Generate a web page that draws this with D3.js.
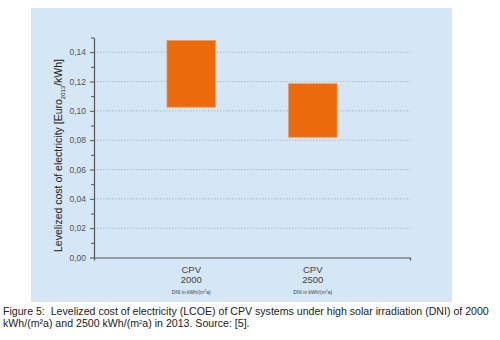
<!DOCTYPE html>
<html>
<head>
<meta charset="utf-8">
<script src="https://cdn.jsdelivr.net/npm/d3@7"></script>
<style>
  body { margin: 0; background: #fff; }
  svg { display: block; font-family: "Liberation Sans", Arial, sans-serif; }
</style>
</head>
<body>
<div id="chart"></div>
<script>
// LCOE ranges for CPV at two DNI levels
const categories = ["2000", "2500"];
const lowValues = [0.1025, 0.082];
const highValues = [0.148, 0.1185];
const yTicks = [0, 0.02, 0.04, 0.06, 0.08, 0.10, 0.12, 0.14];
const captionLines = [
  "Figure 5:  Levelized cost of electricity (LCOE) of CPV systems under high solar irradiation (DNI) of 2000",
  "kWh/(m²a) and 2500 kWh/(m<sup>2</sup>a) in 2013. Source: [5]."
];

const data = categories.map((c, i) => ({ cat: c, low: lowValues[i], high: highValues[i] }));

const W = 500, H = 340;
const svg = d3.select("#chart").append("svg")
  .attr("width", W)
  .attr("height", H);

// light blue panel behind the chart
svg.append("rect")
  .attr("x", 31).attr("y", 8)
  .attr("width", 421).attr("height", 294)
  .attr("fill", "#d5e6f4");

const plotLeft = 94, plotRight = 410, plotTop = 37.5, plotBottom = 257.5;

const x = d3.scaleBand()
  .domain(categories)
  .range([plotLeft, plotRight])
  .padding(0.6);

const y = d3.scaleLinear()
  .domain([0, 0.15])
  .range([plotBottom, plotTop]);

const fmt = d => d.toFixed(2).replace(".", ",");

// dotted grid
svg.append("g")
  .selectAll("line")
  .data(yTicks.slice(1))
  .enter().append("line")
  .attr("x1", plotLeft).attr("x2", plotRight)
  .attr("y1", d => y(d)).attr("y2", d => y(d))
  .attr("stroke", "#a9b4bd")
  .attr("stroke-width", 0.8)
  .attr("stroke-dasharray", "1.5,1.5");

// bars (floating range)
svg.selectAll(".bar")
  .data(data)
  .enter().append("rect")
  .attr("class", "bar")
  .attr("x", d => x(d.cat))
  .attr("y", d => y(d.high))
  .attr("width", x.bandwidth())
  .attr("height", d => y(d.low) - y(d.high))
  .attr("fill", "#ea6a0c")
  .attr("stroke", "#f39a5c")
  .attr("stroke-width", 0.8);

// y axis with minor ticks
const yAxis = svg.append("g")
  .attr("transform", `translate(${plotLeft},0)`)
  .call(d3.axisLeft(y).tickValues(yTicks).tickFormat(fmt).tickSize(4).tickPadding(4).tickSizeOuter(0));
yAxis.select(".domain").attr("stroke", "#555").attr("stroke-width", 1.2);
yAxis.selectAll(".tick line").attr("stroke", "#555");
yAxis.selectAll("text").attr("font-size", 8.5).attr("fill", "#555");

svg.append("g")
  .attr("transform", `translate(${plotLeft},0)`)
  .call(d3.axisLeft(y).tickValues(d3.range(0.01, 0.16, 0.02)).tickFormat("").tickSize(3).tickSizeOuter(0))
  .call(g => g.select(".domain").remove())
  .selectAll("line").attr("stroke", "#555");

// x axis
const xAxis = svg.append("g")
  .attr("transform", `translate(0,${plotBottom})`)
  .call(d3.axisBottom(x).tickSize(0).tickFormat("").tickSizeOuter(3));
xAxis.select(".domain").attr("stroke", "#555").attr("stroke-width", 1.2);

// category labels
const lab = svg.append("g").selectAll("g")
  .data(categories)
  .enter().append("g")
  .attr("transform", d => `translate(${x(d) + x.bandwidth() / 2},0)`)
  .attr("text-anchor", "middle")
  .attr("fill", "#444");
lab.append("text").attr("y", 273).attr("font-size", 9.5).text("CPV");
lab.append("text").attr("y", 283).attr("font-size", 9.5).text(d => d);
lab.append("text").attr("y", 294).attr("font-size", 5)
  .html("DNI in kWh/(m<tspan baseline-shift='super' font-size='3.5'>2</tspan>a)");

// y-axis title
svg.append("text")
  .attr("transform", `translate(62,${(plotTop + plotBottom) / 2 + 8}) rotate(-90)`)
  .attr("text-anchor", "middle")
  .attr("font-size", 10.5)
  .attr("fill", "#222")
  .html("Levelized cost of electricity [Euro<tspan baseline-shift='sub' font-size='6'>2013</tspan>/kWh]");

// caption
svg.append("text")
  .attr("x", 3).attr("y", 315)
  .attr("font-size", 10.6)
  .attr("fill", "#222")
  .style("white-space", "pre")
  .text(captionLines[0]);
svg.append("text")
  .attr("x", 3).attr("y", 327)
  .attr("font-size", 10.6)
  .attr("fill", "#222")
  .html(captionLines[1].replace("<sup>2</sup>", "<tspan baseline-shift='super' font-size='6'>2</tspan>"));
</script>
</body>
</html>
